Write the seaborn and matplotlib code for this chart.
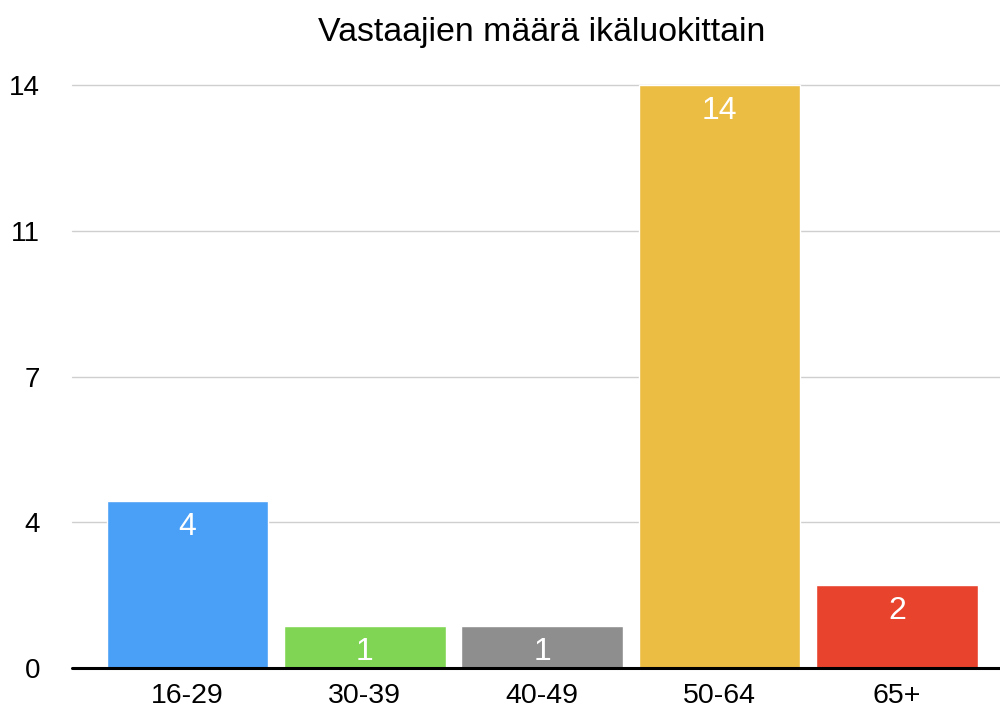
import numpy as np
import pandas as pd
import matplotlib
matplotlib.use("Agg")
import matplotlib.pyplot as plt
import seaborn as sns

# data
categories = ["16-29", "30-39", "40-49", "50-64", "65+"]
counts = [4, 1, 1, 14, 2]
colors = ["#4A9FF6", "#80D654", "#8E8E8E", "#ECBD43", "#E8432D"]
ytick_values = [0, 3.5, 7, 10.5, 14]
ytick_labels = ["0", "4", "7", "11", "14"]
title = "Vastaajien määrä ikäluokittain"

sns.set_style("white")
plt.rcParams["font.family"] = ["Liberation Sans", "DejaVu Sans"]

df = pd.DataFrame({"ikä": categories, "määrä": counts})

fig = plt.figure(figsize=(10, 7.12), dpi=100)
ax = fig.add_axes([0.072, 0.0618, 0.928, 0.8188])

sns.barplot(data=df, x="ikä", y="määrä", hue="ikä", palette=colors,
            width=0.91, saturation=1, legend=False, ax=ax, zorder=3)

ax.set_xlim(-0.65, 4.58)
ax.set_ylim(0, 14)
ax.set_yticks(ytick_values)
ax.set_yticklabels(ytick_labels)
ax.set_xlabel("")
ax.set_ylabel("")

for y in ytick_values[1:]:
    ax.axhline(y, color="#CFCFCF", lw=1.0, zorder=1, clip_on=False)
ax.axhline(0, color="black", lw=2.2, zorder=4, clip_on=False)

for s in ax.spines.values():
    s.set_visible(False)

ax.tick_params(axis="y", length=0, pad=23, labelsize=20, labelcolor="black")
ax.tick_params(axis="x", length=0, pad=11, labelsize=20.5, labelcolor="black")

for i, v in enumerate(counts):
    ax.text(i, v - min(0.62, v * 0.5 + 0.12), str(v), color="white",
            fontsize=23, ha="center", va="center", zorder=5)

fig.text(0.542, 0.955, title, fontsize=24.4, ha="center", va="center",
         color="black")

fig.savefig("out.png", dpi=100)
